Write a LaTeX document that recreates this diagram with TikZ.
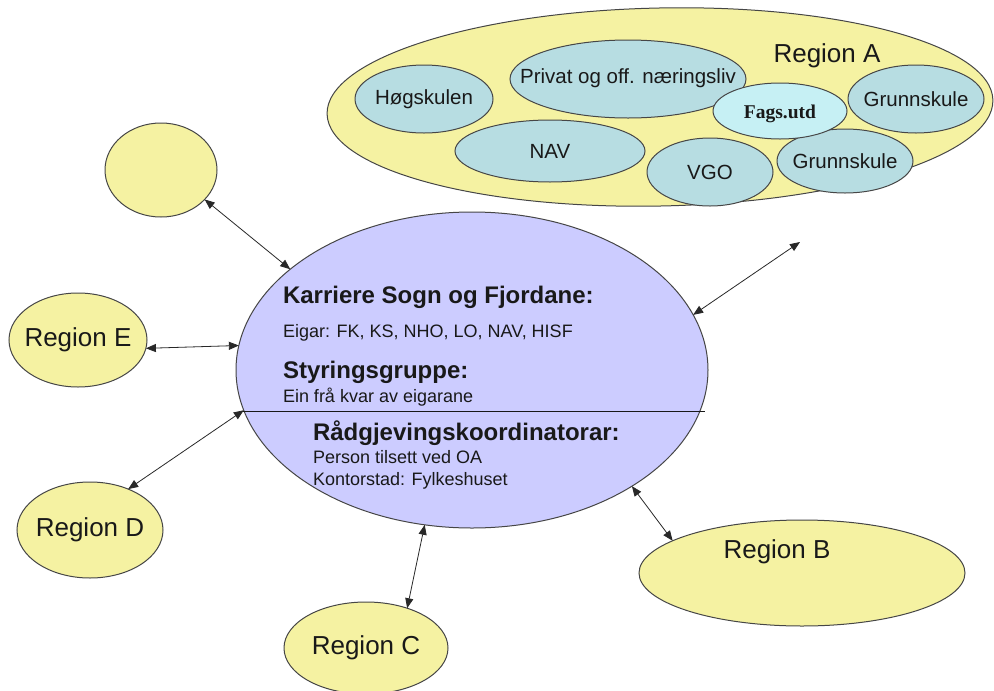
\documentclass[tikz,border=0pt]{standalone}
\usepackage{fontspec}
\setmainfont{Liberation Sans}
\newfontfamily\fagsfont{Liberation Serif}
\usetikzlibrary{shapes.geometric,arrows.meta}
\definecolor{yelfill}{RGB}{245,242,162}
\definecolor{tealfill}{RGB}{183,221,226}
\definecolor{fagsfill}{RGB}{198,240,244}
\definecolor{lavfill}{RGB}{204,204,255}
\definecolor{edgec}{RGB}{70,70,70}
\definecolor{arrowc}{RGB}{40,40,40}
\definecolor{textc}{RGB}{25,25,25}
\begin{document}
\begin{tikzpicture}[x=1pt,y=-1pt,
  every node/.style={inner sep=0pt,outer sep=0pt,text=textc},
  oval/.style={ellipse,draw=edgec,line width=1pt},
  reg/.style={oval,fill=yelfill},
  subov/.style={oval,fill=tealfill},
  regtext/.style={font=\fontsize{26}{30}\selectfont},
  subtext/.style={font=\fontsize{20.5}{24}\selectfont},
  headtext/.style={anchor=base west,font=\fontsize{24}{28}\selectfont\bfseries},
  bodytext/.style={anchor=base west,font=\fontsize{18}{22}\selectfont},
  link/.style={{Triangle[length=10pt,width=8pt]}-{Triangle[length=10pt,width=8pt]},line width=0.8pt,draw=arrowc},
  divider/.style={draw=textc,line width=0.9pt}]
\useasboundingbox (0,0) rectangle (994,691);
\fill[white] (0,0) rectangle (994,691);

% Region A
\node[reg,minimum width=666pt,minimum height=198pt,rotate=1.2] (A) at (660,107) {};
\node[regtext,anchor=base] (Alab) at (827,62) {Region A};
\node[subov,minimum width=138pt,minimum height=68pt] (hs) at (424,99) {};
\node[subtext] (hst) at (hs.center) {Høgskulen};
\node[subov,minimum width=236pt,minimum height=78pt] (priv) at (628,79) {};
\node[subtext] (privt) at ([yshift=1pt]priv.center) {Privat og off. næringsliv};
\node[subov,minimum width=190pt,minimum height=62pt] (nav) at (550,151) {};
\node[subtext] (navt) at (nav.center) {NAV};
\node[subov,minimum width=126pt,minimum height=68pt] (vgo) at (710,172) {};
\node[subtext] (vgot) at (vgo.center) {VGO};
\node[subov,minimum width=136pt,minimum height=64pt] (gs2) at (845,161) {};
\node[subtext] (gs2t) at (gs2.center) {Grunnskule};
\node[subov,minimum width=136pt,minimum height=68pt] (gs1) at (916,99) {};
\node[subtext] (gs1t) at (gs1.center) {Grunnskule};
\node[oval,fill=fagsfill,minimum width=134pt,minimum height=56pt] (fags) at (780,111) {};
\node[font=\fontsize{19.5}{23}\selectfont\fagsfont\bfseries] (fagst) at ([yshift=-3pt]fags.center) {Fags.utd};

% Central
\node[oval,fill=lavfill,minimum width=472pt,minimum height=316pt] (K) at (472,370) {};
\draw[divider] (243,411) -- (705,411);
\node[headtext] (t1) at (283,303) {Karriere Sogn og Fjordane:};
\node[bodytext] (t2) at (283,337) {Eigar: FK, KS, NHO, LO, NAV, HISF};
\node[headtext] (t3) at (283,378) {Styringsgruppe:};
\node[bodytext] (t4) at (283,402) {Ein frå kvar av eigarane};
\node[headtext] (t5) at (313,440) {Rådgjevingskoordinatorar:};
\node[bodytext] (t6) at (313,463) {Person tilsett ved OA};
\node[bodytext] (t7) at (313,485) {Kontorstad: Fylkeshuset};

% Regions
\node[reg,minimum width=112pt,minimum height=94pt] (T) at (161,170) {};
\node[reg,minimum width=138pt,minimum height=94pt] (E) at (78,340) {};
\node[regtext] (Et) at (E.center) {Region E};
\node[reg,minimum width=146pt,minimum height=96pt] (D) at (90,530) {};
\node[regtext] (Dt) at (D.center) {Region D};
\node[reg,minimum width=164pt,minimum height=92pt] (C) at (366,648) {};
\node[regtext] (Ct) at (C.center) {Region C};
\node[reg,minimum width=326pt,minimum height=106pt] (B) at (802,573) {};
\node[regtext] (Blab) at (777,552) {Region B};

\coordinate (ur) at (800,242);

% Connectors
\draw[link] (T.326) -- (K.151.6);
\draw[link] (E.353.4) -- (K.174.6);
\draw[link] (D.47) -- (K.190.2);
\draw[link] (C.44.4) -- (K.253.5);
\draw[link] (B.166.8) -- (K.324.3);
\draw[link] (K.14.3) -- (ur);
\end{tikzpicture}
\end{document}
